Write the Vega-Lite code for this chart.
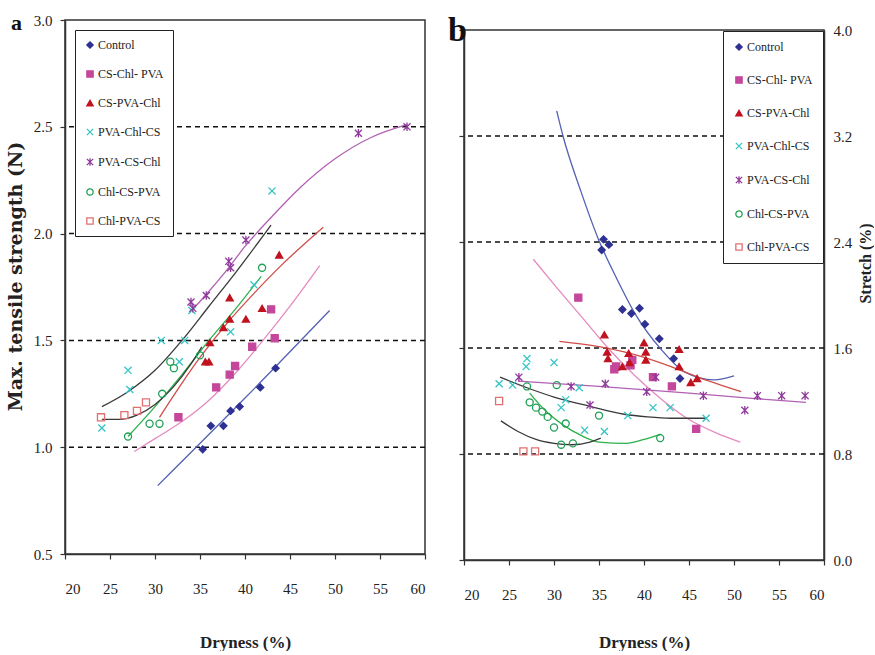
{
  "$schema": "https://vega.github.io/schema/vega-lite/v6.json",
  "background": "white",
  "padding": {"left": 5, "top": 11, "right": 0, "bottom": 0},
  "spacing": 21,
  "columns": 2,
  "align": "none",
  "config": {
    "view": {"stroke": "#333", "strokeWidth": 1.5},
    "font": "Liberation Serif",
    "axis": {"labelFont": "Liberation Serif", "labelFontSize": 15, "labelColor": "#222", "titleFont": "Liberation Serif", "titleFontWeight": "bold", "titleColor": "#222", "domainColor": "#333", "domainWidth": 1.5, "tickColor": "#333", "tickWidth": 1.2, "tickSize": 5, "grid": false},
    "legend": {"labelFont": "Liberation Serif"}
  },
  "datasets": {
    "ga": [{"g": 1.0}, {"g": 1.5}, {"g": 2.0}, {"g": 2.5}],
    "gb": [{"g": 0.8}, {"g": 1.6}, {"g": 2.4}, {"g": 3.2}],
    "pa": [
      {"s": "Control", "x": 35.3, "y": 0.99}, {"s": "Control", "x": 36.2, "y": 1.10}, {"s": "Control", "x": 37.6, "y": 1.10}, {"s": "Control", "x": 38.4, "y": 1.17}, {"s": "Control", "x": 39.4, "y": 1.19}, {"s": "Control", "x": 41.7, "y": 1.28}, {"s": "Control", "x": 43.4, "y": 1.37},
      {"s": "CS-Chl- PVA", "x": 32.6, "y": 1.14}, {"s": "CS-Chl- PVA", "x": 36.8, "y": 1.28}, {"s": "CS-Chl- PVA", "x": 38.3, "y": 1.34}, {"s": "CS-Chl- PVA", "x": 38.9, "y": 1.38}, {"s": "CS-Chl- PVA", "x": 40.8, "y": 1.47}, {"s": "CS-Chl- PVA", "x": 42.9, "y": 1.645}, {"s": "CS-Chl- PVA", "x": 43.3, "y": 1.51},
      {"s": "CS-PVA-Chl", "x": 35.6, "y": 1.40}, {"s": "CS-PVA-Chl", "x": 36.0, "y": 1.40}, {"s": "CS-PVA-Chl", "x": 36.1, "y": 1.49}, {"s": "CS-PVA-Chl", "x": 37.6, "y": 1.56}, {"s": "CS-PVA-Chl", "x": 38.3, "y": 1.60}, {"s": "CS-PVA-Chl", "x": 38.3, "y": 1.70}, {"s": "CS-PVA-Chl", "x": 40.1, "y": 1.60}, {"s": "CS-PVA-Chl", "x": 41.9, "y": 1.65}, {"s": "CS-PVA-Chl", "x": 43.8, "y": 1.90},
      {"s": "PVA-Chl-CS", "x": 24.1, "y": 1.09}, {"s": "PVA-Chl-CS", "x": 27.0, "y": 1.36}, {"s": "PVA-Chl-CS", "x": 27.2, "y": 1.27}, {"s": "PVA-Chl-CS", "x": 30.7, "y": 1.50}, {"s": "PVA-Chl-CS", "x": 32.7, "y": 1.40}, {"s": "PVA-Chl-CS", "x": 33.3, "y": 1.50}, {"s": "PVA-Chl-CS", "x": 34.1, "y": 1.64}, {"s": "PVA-Chl-CS", "x": 38.4, "y": 1.54}, {"s": "PVA-Chl-CS", "x": 41.0, "y": 1.76}, {"s": "PVA-Chl-CS", "x": 43.0, "y": 2.20},
      {"s": "PVA-CS-Chl", "x": 34.0, "y": 1.68}, {"s": "PVA-CS-Chl", "x": 34.2, "y": 1.65}, {"s": "PVA-CS-Chl", "x": 35.7, "y": 1.71}, {"s": "PVA-CS-Chl", "x": 38.2, "y": 1.87}, {"s": "PVA-CS-Chl", "x": 38.4, "y": 1.84}, {"s": "PVA-CS-Chl", "x": 40.1, "y": 1.97}, {"s": "PVA-CS-Chl", "x": 52.6, "y": 2.47}, {"s": "PVA-CS-Chl", "x": 58.0, "y": 2.50},
      {"s": "Chl-CS-PVA", "x": 27.0, "y": 1.05}, {"s": "Chl-CS-PVA", "x": 29.4, "y": 1.11}, {"s": "Chl-CS-PVA", "x": 30.5, "y": 1.11}, {"s": "Chl-CS-PVA", "x": 30.8, "y": 1.25}, {"s": "Chl-CS-PVA", "x": 31.7, "y": 1.40}, {"s": "Chl-CS-PVA", "x": 32.1, "y": 1.37}, {"s": "Chl-CS-PVA", "x": 35.0, "y": 1.43}, {"s": "Chl-CS-PVA", "x": 41.9, "y": 1.84},
      {"s": "Chl-PVA-CS", "x": 24.0, "y": 1.14}, {"s": "Chl-PVA-CS", "x": 26.6, "y": 1.15}, {"s": "Chl-PVA-CS", "x": 28.0, "y": 1.17}, {"s": "Chl-PVA-CS", "x": 29.0, "y": 1.21}
    ],
    "la": [
      {"s": "Control", "x": 30.3, "y": 0.82}, {"s": "Control", "x": 40.0, "y": 1.23}, {"s": "Control", "x": 49.4, "y": 1.64},
      {"s": "CS-Chl- PVA", "x": 27.7, "y": 0.98}, {"s": "CS-Chl- PVA", "x": 30, "y": 1.04}, {"s": "CS-Chl- PVA", "x": 33, "y": 1.12}, {"s": "CS-Chl- PVA", "x": 36, "y": 1.22}, {"s": "CS-Chl- PVA", "x": 39, "y": 1.35}, {"s": "CS-Chl- PVA", "x": 42, "y": 1.5}, {"s": "CS-Chl- PVA", "x": 45, "y": 1.66}, {"s": "CS-Chl- PVA", "x": 48.3, "y": 1.85},
      {"s": "CS-PVA-Chl", "x": 30.5, "y": 1.14}, {"s": "CS-PVA-Chl", "x": 33, "y": 1.3}, {"s": "CS-PVA-Chl", "x": 35, "y": 1.42}, {"s": "CS-PVA-Chl", "x": 38, "y": 1.58}, {"s": "CS-PVA-Chl", "x": 41, "y": 1.72}, {"s": "CS-PVA-Chl", "x": 44, "y": 1.85}, {"s": "CS-PVA-Chl", "x": 48.7, "y": 2.03},
      {"s": "PVA-Chl-CS", "x": 24.1, "y": 1.19}, {"s": "PVA-Chl-CS", "x": 27, "y": 1.26}, {"s": "PVA-Chl-CS", "x": 30, "y": 1.36}, {"s": "PVA-Chl-CS", "x": 33, "y": 1.5}, {"s": "PVA-Chl-CS", "x": 36, "y": 1.66}, {"s": "PVA-Chl-CS", "x": 39, "y": 1.82}, {"s": "PVA-Chl-CS", "x": 42.9, "y": 2.04},
      {"s": "PVA-CS-Chl", "x": 34.2, "y": 1.645}, {"s": "PVA-CS-Chl", "x": 36, "y": 1.73}, {"s": "PVA-CS-Chl", "x": 38, "y": 1.83}, {"s": "PVA-CS-Chl", "x": 40, "y": 1.94}, {"s": "PVA-CS-Chl", "x": 43, "y": 2.08}, {"s": "PVA-CS-Chl", "x": 46, "y": 2.21}, {"s": "PVA-CS-Chl", "x": 50, "y": 2.35}, {"s": "PVA-CS-Chl", "x": 54, "y": 2.45}, {"s": "PVA-CS-Chl", "x": 58, "y": 2.51},
      {"s": "Chl-CS-PVA", "x": 27, "y": 1.05}, {"s": "Chl-CS-PVA", "x": 30, "y": 1.19}, {"s": "Chl-CS-PVA", "x": 33, "y": 1.34}, {"s": "Chl-CS-PVA", "x": 36, "y": 1.5}, {"s": "Chl-CS-PVA", "x": 39, "y": 1.65}, {"s": "Chl-CS-PVA", "x": 41.8, "y": 1.80},
      {"s": "Chl-PVA-CS", "x": 24.1, "y": 1.13}, {"s": "Chl-PVA-CS", "x": 26, "y": 1.13}, {"s": "Chl-PVA-CS", "x": 28, "y": 1.15}, {"s": "Chl-PVA-CS", "x": 30, "y": 1.2}, {"s": "Chl-PVA-CS", "x": 32, "y": 1.28}, {"s": "Chl-PVA-CS", "x": 34, "y": 1.39}, {"s": "Chl-PVA-CS", "x": 35.2, "y": 1.47}
    ],
    "pb": [
      {"s": "Control", "x": 35.3, "y": 2.34}, {"s": "Control", "x": 35.5, "y": 2.42}, {"s": "Control", "x": 36.1, "y": 2.38}, {"s": "Control", "x": 37.6, "y": 1.89}, {"s": "Control", "x": 38.6, "y": 1.86}, {"s": "Control", "x": 39.5, "y": 1.90}, {"s": "Control", "x": 40.1, "y": 1.78}, {"s": "Control", "x": 41.7, "y": 1.67}, {"s": "Control", "x": 43.3, "y": 1.52}, {"s": "Control", "x": 44.0, "y": 1.37},
      {"s": "CS-Chl- PVA", "x": 32.7, "y": 1.98}, {"s": "CS-Chl- PVA", "x": 36.7, "y": 1.44}, {"s": "CS-Chl- PVA", "x": 36.9, "y": 1.46}, {"s": "CS-Chl- PVA", "x": 38.5, "y": 1.47}, {"s": "CS-Chl- PVA", "x": 38.7, "y": 1.51}, {"s": "CS-Chl- PVA", "x": 41.0, "y": 1.38}, {"s": "CS-Chl- PVA", "x": 43.1, "y": 1.31}, {"s": "CS-Chl- PVA", "x": 45.8, "y": 0.99},
      {"s": "CS-PVA-Chl", "x": 35.6, "y": 1.70}, {"s": "CS-PVA-Chl", "x": 35.9, "y": 1.57}, {"s": "CS-PVA-Chl", "x": 36.0, "y": 1.52}, {"s": "CS-PVA-Chl", "x": 37.6, "y": 1.46}, {"s": "CS-PVA-Chl", "x": 38.3, "y": 1.56}, {"s": "CS-PVA-Chl", "x": 38.4, "y": 1.49}, {"s": "CS-PVA-Chl", "x": 40.0, "y": 1.64}, {"s": "CS-PVA-Chl", "x": 40.2, "y": 1.57}, {"s": "CS-PVA-Chl", "x": 40.2, "y": 1.51}, {"s": "CS-PVA-Chl", "x": 43.9, "y": 1.59}, {"s": "CS-PVA-Chl", "x": 43.9, "y": 1.46}, {"s": "CS-PVA-Chl", "x": 45.2, "y": 1.34}, {"s": "CS-PVA-Chl", "x": 45.9, "y": 1.37},
      {"s": "PVA-Chl-CS", "x": 23.9, "y": 1.33}, {"s": "PVA-Chl-CS", "x": 25.4, "y": 1.32}, {"s": "PVA-Chl-CS", "x": 27.0, "y": 1.52}, {"s": "PVA-Chl-CS", "x": 26.9, "y": 1.46}, {"s": "PVA-Chl-CS", "x": 30.0, "y": 1.49}, {"s": "PVA-Chl-CS", "x": 30.8, "y": 1.15}, {"s": "PVA-Chl-CS", "x": 31.3, "y": 1.21}, {"s": "PVA-Chl-CS", "x": 32.8, "y": 1.30}, {"s": "PVA-Chl-CS", "x": 33.4, "y": 0.98}, {"s": "PVA-Chl-CS", "x": 35.6, "y": 0.97}, {"s": "PVA-Chl-CS", "x": 38.2, "y": 1.09}, {"s": "PVA-Chl-CS", "x": 41.0, "y": 1.15}, {"s": "PVA-Chl-CS", "x": 42.9, "y": 1.15}, {"s": "PVA-Chl-CS", "x": 46.9, "y": 1.07},
      {"s": "PVA-CS-Chl", "x": 26.1, "y": 1.38}, {"s": "PVA-CS-Chl", "x": 31.9, "y": 1.31}, {"s": "PVA-CS-Chl", "x": 34.0, "y": 1.17}, {"s": "PVA-CS-Chl", "x": 35.7, "y": 1.33}, {"s": "PVA-CS-Chl", "x": 40.3, "y": 1.27}, {"s": "PVA-CS-Chl", "x": 41.3, "y": 1.38}, {"s": "PVA-CS-Chl", "x": 46.6, "y": 1.24}, {"s": "PVA-CS-Chl", "x": 51.2, "y": 1.13}, {"s": "PVA-CS-Chl", "x": 52.6, "y": 1.24}, {"s": "PVA-CS-Chl", "x": 55.3, "y": 1.24}, {"s": "PVA-CS-Chl", "x": 57.9, "y": 1.24},
      {"s": "Chl-CS-PVA", "x": 27.0, "y": 1.31}, {"s": "Chl-CS-PVA", "x": 30.3, "y": 1.32}, {"s": "Chl-CS-PVA", "x": 27.3, "y": 1.19}, {"s": "Chl-CS-PVA", "x": 28.0, "y": 1.15}, {"s": "Chl-CS-PVA", "x": 28.7, "y": 1.12}, {"s": "Chl-CS-PVA", "x": 29.3, "y": 1.08}, {"s": "Chl-CS-PVA", "x": 30.0, "y": 1.00}, {"s": "Chl-CS-PVA", "x": 30.8, "y": 0.87}, {"s": "Chl-CS-PVA", "x": 31.3, "y": 1.03}, {"s": "Chl-CS-PVA", "x": 32.1, "y": 0.88}, {"s": "Chl-CS-PVA", "x": 35.0, "y": 1.09}, {"s": "Chl-CS-PVA", "x": 41.8, "y": 0.92},
      {"s": "Chl-PVA-CS", "x": 23.9, "y": 1.20}, {"s": "Chl-PVA-CS", "x": 26.6, "y": 0.82}, {"s": "Chl-PVA-CS", "x": 27.9, "y": 0.82}
    ],
    "lb": [
      {"s": "Control", "x": 30.3, "y": 3.39}, {"s": "Control", "x": 31, "y": 3.2}, {"s": "Control", "x": 33, "y": 2.78}, {"s": "Control", "x": 35, "y": 2.41}, {"s": "Control", "x": 37, "y": 2.12}, {"s": "Control", "x": 39, "y": 1.86}, {"s": "Control", "x": 41.9, "y": 1.59}, {"s": "Control", "x": 44.5, "y": 1.42}, {"s": "Control", "x": 47.8, "y": 1.36}, {"s": "Control", "x": 50, "y": 1.39},
      {"s": "CS-Chl- PVA", "x": 27.7, "y": 2.27}, {"s": "CS-Chl- PVA", "x": 30, "y": 2.08}, {"s": "CS-Chl- PVA", "x": 33, "y": 1.84}, {"s": "CS-Chl- PVA", "x": 36, "y": 1.6}, {"s": "CS-Chl- PVA", "x": 39, "y": 1.39}, {"s": "CS-Chl- PVA", "x": 42, "y": 1.21}, {"s": "CS-Chl- PVA", "x": 45, "y": 1.06}, {"s": "CS-Chl- PVA", "x": 48, "y": 0.96}, {"s": "CS-Chl- PVA", "x": 50.7, "y": 0.89},
      {"s": "CS-PVA-Chl", "x": 30.6, "y": 1.65}, {"s": "CS-PVA-Chl", "x": 35, "y": 1.61}, {"s": "CS-PVA-Chl", "x": 40, "y": 1.53}, {"s": "CS-PVA-Chl", "x": 43, "y": 1.46}, {"s": "CS-PVA-Chl", "x": 46, "y": 1.38}, {"s": "CS-PVA-Chl", "x": 50.8, "y": 1.27},
      {"s": "PVA-Chl-CS", "x": 24, "y": 1.38}, {"s": "PVA-Chl-CS", "x": 27, "y": 1.3}, {"s": "PVA-Chl-CS", "x": 30, "y": 1.23}, {"s": "PVA-Chl-CS", "x": 34, "y": 1.16}, {"s": "PVA-Chl-CS", "x": 37.8, "y": 1.10}, {"s": "PVA-Chl-CS", "x": 40.4, "y": 1.08}, {"s": "PVA-Chl-CS", "x": 43, "y": 1.07}, {"s": "PVA-Chl-CS", "x": 46.9, "y": 1.07},
      {"s": "PVA-CS-Chl", "x": 26, "y": 1.35}, {"s": "PVA-CS-Chl", "x": 35, "y": 1.31}, {"s": "PVA-CS-Chl", "x": 45, "y": 1.26}, {"s": "PVA-CS-Chl", "x": 52, "y": 1.22}, {"s": "PVA-CS-Chl", "x": 58, "y": 1.19},
      {"s": "Chl-CS-PVA", "x": 27.3, "y": 1.26}, {"s": "Chl-CS-PVA", "x": 29, "y": 1.13}, {"s": "Chl-CS-PVA", "x": 31, "y": 1.02}, {"s": "Chl-CS-PVA", "x": 33, "y": 0.94}, {"s": "Chl-CS-PVA", "x": 35, "y": 0.89}, {"s": "Chl-CS-PVA", "x": 38, "y": 0.88}, {"s": "Chl-CS-PVA", "x": 40, "y": 0.91}, {"s": "Chl-CS-PVA", "x": 41.9, "y": 0.95},
      {"s": "Chl-PVA-CS", "x": 24.1, "y": 1.05}, {"s": "Chl-PVA-CS", "x": 26, "y": 0.97}, {"s": "Chl-PVA-CS", "x": 28, "y": 0.91}, {"s": "Chl-PVA-CS", "x": 30, "y": 0.88}, {"s": "Chl-PVA-CS", "x": 32, "y": 0.87}, {"s": "Chl-PVA-CS", "x": 34, "y": 0.89}, {"s": "Chl-PVA-CS", "x": 35.2, "y": 0.92}
    ]
  },
  "concat": [
    {
      "width": 360,
      "height": 534,
      "title": {"text": "a", "anchor": "start", "frame": "group", "fontSize": 22, "font": "Liberation Serif", "fontWeight": "bold", "dx": -54, "offset": -22, "color": "#111"},
      "layer": [
        {
          "data": {"name": "ga"},
          "mark": {"type": "rule", "strokeDash": [5, 4], "strokeWidth": 1.5, "color": "#111"},
          "encoding": {
            "y": {"field": "g", "type": "quantitative", "scale": {"domain": [0.5, 3], "nice": false}, "axis": {"values": [0.5, 1, 1.5, 2, 2.5, 3], "format": ".1f", "title": "Max. tensile strength (N)", "titleFont": "DejaVu Serif", "titleFontSize": 19, "titleY": 256, "labelPadding": 8, "titlePadding": 8}}
          }
        },
        {
          "data": {"name": "la"},
          "mark": {"type": "line", "interpolate": "monotone", "strokeWidth": 1.3},
          "encoding": {
            "x": {"field": "x", "type": "quantitative", "scale": {"domain": [20, 60], "nice": false}, "axis": {"values": [20, 25, 30, 35, 40, 45, 50, 55, 60], "title": "Dryness (%)", "titleFontSize": 17, "labelPadding": 22, "titlePadding": 38}},
            "y": {"field": "y", "type": "quantitative", "scale": {"domain": [0.5, 3], "nice": false}},
            "color": {"field": "s", "type": "nominal", "scale": {"domain": ["Chl-PVA-CS", "Chl-CS-PVA", "PVA-CS-Chl", "PVA-Chl-CS", "CS-PVA-Chl", "CS-Chl- PVA", "Control"], "range": ["#3A3A3A", "#2BB04A", "#B160B4", "#3A3A3A", "#CF4E4A", "#E58BBF", "#5361B5"]}, "legend": null}
          }
        },
        {
          "data": {"name": "pa"},
          "mark": {"type": "point", "size": 50, "strokeWidth": 1.3, "opacity": 1},
          "encoding": {
            "x": {"field": "x", "type": "quantitative", "scale": {"domain": [20, 60], "nice": false}},
            "y": {"field": "y", "type": "quantitative", "scale": {"domain": [0.5, 3], "nice": false}},
            "fill": {"field": "s", "type": "nominal", "scale": {"domain": ["Control", "CS-Chl- PVA", "CS-PVA-Chl", "PVA-Chl-CS", "PVA-CS-Chl", "Chl-CS-PVA", "Chl-PVA-CS"], "range": ["#2E3192", "#C4479B", "#C1121F", "transparent", "transparent", "transparent", "transparent"]}, "legend": {"title": null, "orient": "top-left", "offset": 10, "padding": 9, "rowPadding": 17, "strokeColor": "#222", "fillColor": "white", "labelFont": "Liberation Serif", "labelFontSize": 12, "labelColor": "#222", "symbolSize": 40, "symbolStrokeWidth": 1.3, "labelOffset": 2}},
            "stroke": {"field": "s", "type": "nominal", "scale": {"domain": ["Control", "CS-Chl- PVA", "CS-PVA-Chl", "PVA-Chl-CS", "PVA-CS-Chl", "Chl-CS-PVA", "Chl-PVA-CS"], "range": ["#2E3192", "#C4479B", "#C1121F", "#35C4C4", "#8E3A9A", "#1FA055", "#E07070"]}, "legend": {"title": null, "orient": "top-left", "offset": 10, "padding": 9, "rowPadding": 17, "strokeColor": "#222", "fillColor": "white", "labelFont": "Liberation Serif", "labelFontSize": 12, "labelColor": "#222", "symbolSize": 40, "symbolStrokeWidth": 1.3, "labelOffset": 2}},
            "shape": {"field": "s", "type": "nominal", "scale": {"domain": ["Control", "CS-Chl- PVA", "CS-PVA-Chl", "PVA-Chl-CS", "PVA-CS-Chl", "Chl-CS-PVA", "Chl-PVA-CS"], "range": ["diamond", "square", "triangle-up", "M-1,-1L1,1M1,-1L-1,1", "M-1,-1L1,1M1,-1L-1,1M0,-1.2L0,1.2", "circle", "square"]}, "legend": {"title": null, "orient": "top-left", "offset": 10, "padding": 9, "rowPadding": 17, "strokeColor": "#222", "fillColor": "white", "labelFont": "Liberation Serif", "labelFontSize": 12, "labelColor": "#222", "symbolSize": 40, "symbolStrokeWidth": 1.3, "labelOffset": 2}}
          }
        }
      ]
    },
    {
      "title": {"text": "b", "anchor": "start", "frame": "group", "fontSize": 34, "font": "Liberation Serif", "fontWeight": "bold", "dx": -16, "offset": -28, "color": "#111"},
      "spacing": 0,
      "vconcat": [
        {
          "width": 360,
          "height": 1,
          "view": {"stroke": "transparent", "fill": "transparent"},
          "data": {"values": []},
          "mark": {"type": "rule", "opacity": 0},
          "encoding": {}
        },
        {
          "width": 360,
          "height": 530,
          "layer": [
            {
              "data": {"name": "gb"},
              "mark": {"type": "rule", "strokeDash": [5, 4], "strokeWidth": 1.5, "color": "#111"},
              "encoding": {
                "y": {"field": "g", "type": "quantitative", "scale": {"domain": [0, 4], "nice": false}, "axis": {"orient": "left", "values": [0, 0.8, 1.6, 2.4, 3.2, 4.0], "labels": false, "title": null}}
              }
            },
            {
              "data": {"name": "lb"},
              "mark": {"type": "line", "interpolate": "monotone", "strokeWidth": 1.3},
              "encoding": {
                "x": {"field": "x", "type": "quantitative", "scale": {"domain": [20, 60], "nice": false}, "axis": {"values": [20, 25, 30, 35, 40, 45, 50, 55, 60], "title": "Dryness (%)", "titleFontSize": 17, "labelPadding": 22, "titlePadding": 32}},
                "y": {"field": "y", "type": "quantitative", "scale": {"domain": [0, 4], "nice": false}, "axis": null},
                "color": {"field": "s", "type": "nominal", "scale": {"domain": ["Chl-PVA-CS", "Chl-CS-PVA", "PVA-CS-Chl", "PVA-Chl-CS", "CS-PVA-Chl", "CS-Chl- PVA", "Control"], "range": ["#3A3A3A", "#2BB04A", "#B160B4", "#3A3A3A", "#CF4E4A", "#E58BBF", "#5361B5"]}, "legend": null}
              }
            },
            {
              "data": {"name": "pb"},
              "mark": {"type": "point", "size": 50, "strokeWidth": 1.3, "opacity": 1},
              "encoding": {
                "x": {"field": "x", "type": "quantitative", "scale": {"domain": [20, 60], "nice": false}},
                "y": {"field": "y", "type": "quantitative", "scale": {"domain": [0, 4], "nice": false}, "axis": {"orient": "right", "values": [0, 0.8, 1.6, 2.4, 3.2, 4.0], "format": ".1f", "ticks": false, "labelPadding": 9, "title": "Stretch (%)", "titleFontSize": 16, "titleAngle": 270, "titleX": 41, "titleY": 233, "titleAlign": "center", "titleBaseline": "middle"}},
                "fill": {"field": "s", "type": "nominal", "scale": {"domain": ["Control", "CS-Chl- PVA", "CS-PVA-Chl", "PVA-Chl-CS", "PVA-CS-Chl", "Chl-CS-PVA", "Chl-PVA-CS"], "range": ["#2E3192", "#C4479B", "#C1121F", "transparent", "transparent", "transparent", "transparent"]}, "legend": {"title": null, "orient": "top-right", "offset": 1, "padding": 10, "rowPadding": 21, "strokeColor": "#222", "fillColor": "white", "labelFont": "Liberation Serif", "labelFontSize": 12, "labelColor": "#222", "symbolSize": 40, "symbolStrokeWidth": 1.3, "labelOffset": 2}},
                "stroke": {"field": "s", "type": "nominal", "scale": {"domain": ["Control", "CS-Chl- PVA", "CS-PVA-Chl", "PVA-Chl-CS", "PVA-CS-Chl", "Chl-CS-PVA", "Chl-PVA-CS"], "range": ["#2E3192", "#C4479B", "#C1121F", "#35C4C4", "#8E3A9A", "#1FA055", "#E07070"]}, "legend": {"title": null, "orient": "top-right", "offset": 1, "padding": 10, "rowPadding": 21, "strokeColor": "#222", "fillColor": "white", "labelFont": "Liberation Serif", "labelFontSize": 12, "labelColor": "#222", "symbolSize": 40, "symbolStrokeWidth": 1.3, "labelOffset": 2}},
                "shape": {"field": "s", "type": "nominal", "scale": {"domain": ["Control", "CS-Chl- PVA", "CS-PVA-Chl", "PVA-Chl-CS", "PVA-CS-Chl", "Chl-CS-PVA", "Chl-PVA-CS"], "range": ["diamond", "square", "triangle-up", "M-1,-1L1,1M1,-1L-1,1", "M-1,-1L1,1M1,-1L-1,1M0,-1.2L0,1.2", "circle", "square"]}, "legend": {"title": null, "orient": "top-right", "offset": 1, "padding": 10, "rowPadding": 21, "strokeColor": "#222", "fillColor": "white", "labelFont": "Liberation Serif", "labelFontSize": 12, "labelColor": "#222", "symbolSize": 40, "symbolStrokeWidth": 1.3, "labelOffset": 2}}
              }
            }
          ],
          "resolve": {"axis": {"y": "independent"}}
        }
      ],
      "resolve": {
        "scale": {"x": "independent", "y": "independent", "color": "independent", "fill": "independent", "stroke": "independent", "shape": "independent"},
        "legend": {"fill": "independent", "stroke": "independent", "shape": "independent"}
      }
    }
  ],
  "resolve": {
    "scale": {"x": "independent", "y": "independent", "color": "independent", "fill": "independent", "stroke": "independent", "shape": "independent"},
    "legend": {"fill": "independent", "stroke": "independent", "shape": "independent"}
  }
}
